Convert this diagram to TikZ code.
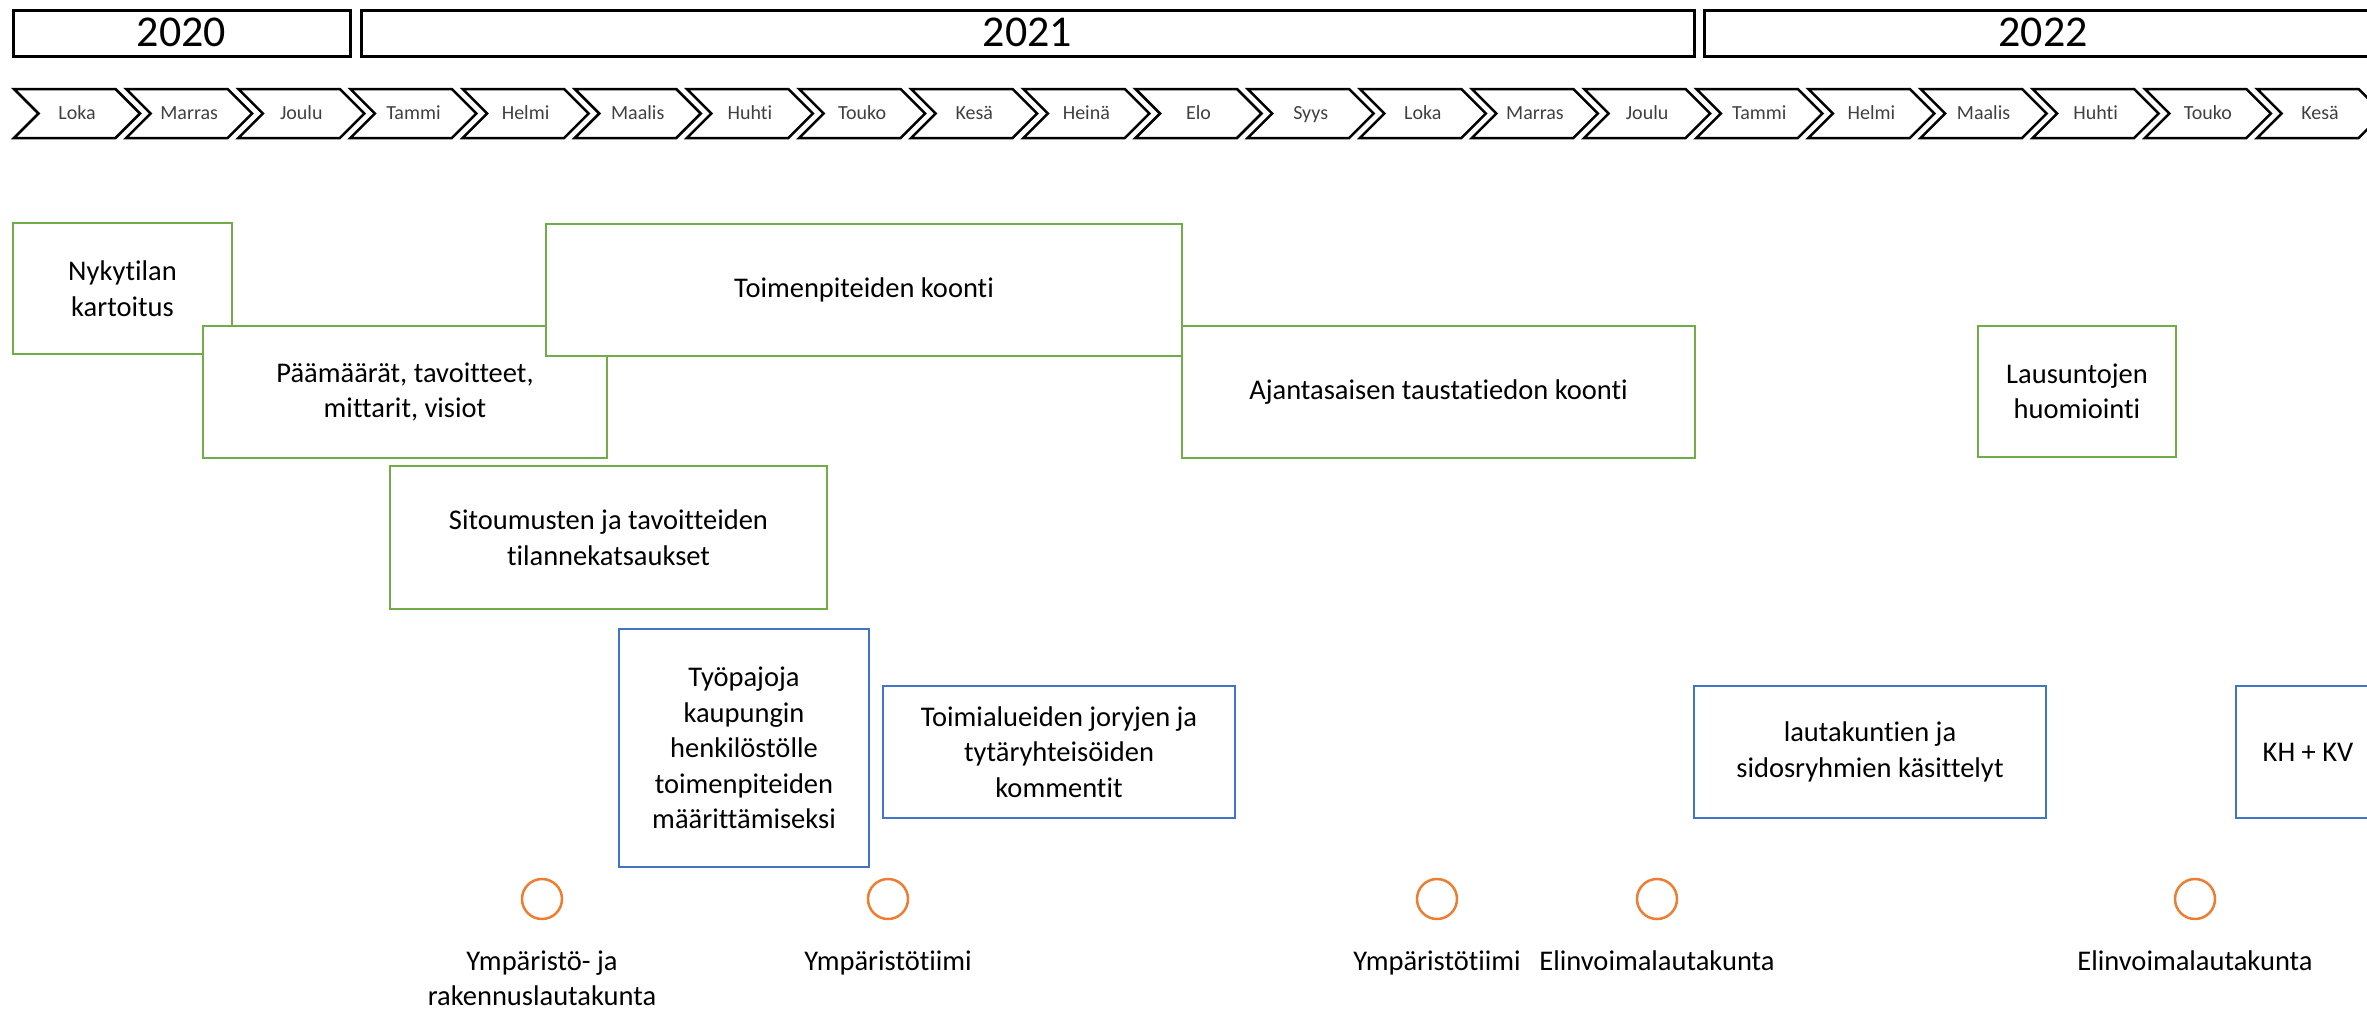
\documentclass[tikz,border=0pt]{standalone}
\usepackage{fontspec}
\setmainfont{Carlito}[Ligatures=NoCommon]
\usepackage{tikz}
\usetikzlibrary{positioning}
\usetikzlibrary{shapes.symbols}
\definecolor{boxgreen}{RGB}{112,173,71}
\definecolor{boxblue}{RGB}{68,114,196}
\definecolor{dotorange}{RGB}{237,125,49}
\definecolor{monthgray}{RGB}{64,64,64}

\begin{document}
\begin{tikzpicture}[
            x = 1pt, y = -1pt, % one unit per pixel, y downwards
            inner sep = 0pt,
            node distance = 30pt % distance between dot and label
            ]

        \tikzstyle{yearbox}=[
            draw, line width = 3pt,
            minimum height = 46pt,
            text depth = 2pt,
            font = \fontsize{44}{50}\selectfont
        ]
        \tikzstyle{monthbox}=[
            draw, line width = 2.5pt,
            shape = signal, signal from = west, signal to = east,
            signal pointer angle = 90,
            minimum width = 126pt, minimum height = 49pt,
            text height = 14pt, text depth = 2pt,
            text = monthgray,
            font = \fontsize{20}{24}\selectfont
        ]
        \tikzstyle{phasebox}=[
            draw = boxgreen, line width = 2.5pt, fill = white,
            align = center,
            font = \fontsize{28.5}{35.5}\selectfont
        ]
        \tikzstyle{commentbox}=[phasebox, draw = boxblue]
        \tikzstyle{meetingdot}=[
            circle, draw = dotorange, line width = 2.5pt,
            minimum size = 40pt
        ]
        \tikzstyle{boardlabel}=[
            align = center,
            font = \fontsize{28.5}{35.5}\selectfont
        ]

        \useasboundingbox (0,0) rectangle (2367,1009);
        \clip (0,0) rectangle (2367,1009);

	% years
	\node[yearbox] (Y1) [minimum width = 337pt] at (181.5,33) {2020};
	\node[yearbox] (Y2) [minimum width = 1333pt] at (1027.5,33) {2021};
	\node[yearbox] (Y3) [minimum width = 678pt] at (2043,33) {2022};

	% months
	\node[monthbox] (M1) at (77,113.5) {Loka};
	\node[monthbox] (M2) at ([xshift=112.15pt]M1.center) {Marras};
	\node[monthbox] (M3) at ([xshift=112.15pt]M2.center) {Joulu};
	\node[monthbox] (M4) at ([xshift=112.15pt]M3.center) {Tammi};
	\node[monthbox] (M5) at ([xshift=112.15pt]M4.center) {Helmi};
	\node[monthbox] (M6) at ([xshift=112.15pt]M5.center) {Maalis};
	\node[monthbox] (M7) at ([xshift=112.15pt]M6.center) {Huhti};
	\node[monthbox] (M8) at ([xshift=112.15pt]M7.center) {Touko};
	\node[monthbox] (M9) at ([xshift=112.15pt]M8.center) {Kesä};
	\node[monthbox] (M10) at ([xshift=112.15pt]M9.center) {Heinä};
	\node[monthbox] (M11) at ([xshift=112.15pt]M10.center) {Elo};
	\node[monthbox] (M12) at ([xshift=112.15pt]M11.center) {Syys};
	\node[monthbox] (M13) at ([xshift=112.15pt]M12.center) {Loka};
	\node[monthbox] (M14) at ([xshift=112.15pt]M13.center) {Marras};
	\node[monthbox] (M15) at ([xshift=112.15pt]M14.center) {Joulu};
	\node[monthbox] (M16) at ([xshift=112.15pt]M15.center) {Tammi};
	\node[monthbox] (M17) at ([xshift=112.15pt]M16.center) {Helmi};
	\node[monthbox] (M18) at ([xshift=112.15pt]M17.center) {Maalis};
	\node[monthbox] (M19) at ([xshift=112.15pt]M18.center) {Huhti};
	\node[monthbox] (M20) at ([xshift=112.15pt]M19.center) {Touko};
	\node[monthbox] (M21) at ([xshift=112.15pt]M20.center) {Kesä};

	% phases (later ones lie on top)
	\node[phasebox] (A) [minimum width = 219pt, minimum height = 131pt] at (122.5,288.5) {Nykytilan\\kartoitus};
	\node[phasebox] (B) [minimum width = 404pt, minimum height = 132pt] at (405,392) {Päämäärät, tavoitteet,\\mittarit, visiot};
	\node[phasebox] (C) [minimum width = 636pt, minimum height = 132pt] at (864,290) {Toimenpiteiden koonti};
	\node[phasebox] (D) [minimum width = 437pt, minimum height = 143pt] at (608.5,537.5) {Sitoumusten ja tavoitteiden\\tilannekatsaukset};
	\node[phasebox] (E) [minimum width = 513pt, minimum height = 132pt] at (1438.5,392) {Ajantasaisen taustatiedon koonti};
	\node[phasebox] (F) [minimum width = 198pt, minimum height = 131pt] at (2077,391.5) {Lausuntojen\\huomiointi};

	% comment rounds
	\node[commentbox] (G) [minimum width = 250pt, minimum height = 238pt] at (744,748) {Työpajoja\\kaupungin\\henkilöstölle\\toimenpiteiden\\määrittämiseksi};
	\node[commentbox] (H) [minimum width = 352pt, minimum height = 132pt] at (1059,752) {Toimialueiden joryjen ja\\tytäryhteisöiden\\kommentit};
	\node[commentbox] (I) [minimum width = 352pt, minimum height = 132pt] at (1870,752) {lautakuntien ja\\sidosryhmien käsittelyt};
	\node[commentbox] (J) [minimum width = 144pt, minimum height = 132pt] at (2308,752) {KH + KV};

	% meetings
	\node[meetingdot] (K1) at (542,899) {};
	\node[boardlabel] (L1) [below = of K1] {Ympäristö- ja\\rakennuslautakunta};
	\node[meetingdot] (K2) at (888,899) {};
	\node[boardlabel] (L2) [below = of K2] {Ympäristötiimi};
	\node[meetingdot] (K3) at (1437,899) {};
	\node[boardlabel] (L3) [below = of K3] {Ympäristötiimi};
	\node[meetingdot] (K4) at (1657,899) {};
	\node[boardlabel] (L4) [below = of K4] {Elinvoimalautakunta};
	\node[meetingdot] (K5) at (2195,899) {};
	\node[boardlabel] (L5) [below = of K5] {Elinvoimalautakunta};

\end{tikzpicture}
\end{document}
